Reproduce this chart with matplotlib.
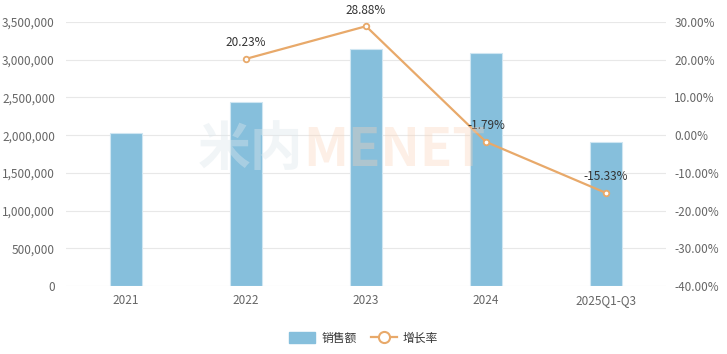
import matplotlib
matplotlib.use("Agg")
import matplotlib.pyplot as plt
from matplotlib.ticker import FuncFormatter
from matplotlib.lines import Line2D
from matplotlib.patches import Patch

plt.rcParams['font.family'] = ['Noto Sans CJK SC', 'DejaVu Sans']

categories = ["2021", "2022", "2023", "2024", "2025Q1-Q3"]
sales = [2030000, 2440000, 3145000, 3089000, 1915000]
growth = [None, 20.23, 28.88, -1.79, -15.33]
growth_labels = ["", "20.23%", "28.88%", "-1.79%", "-15.33%"]

bar_color = "#86BFDC"
line_color = "#E8A96A"
tick_color = "#666666"
grid_color = "#E8E8E8"

fig = plt.figure(figsize=(7.27, 3.54), dpi=100)
ax = fig.add_axes([66/727, 1-286/354, 600/727, 264/354])
x = list(range(len(categories)))
ax.bar(x, sales, width=0.27, color=bar_color, edgecolor="#CFE6F2", linewidth=0.8, zorder=2)
ax.set_xlim(-0.5, len(categories)-0.5)
ax.set_ylim(0, 3500000)
ax.set_yticks(range(0, 3500001, 500000))
ax.yaxis.set_major_formatter(FuncFormatter(lambda v, p: f"{int(v):,}"))
ax.set_xticks(x)
ax.set_xticklabels(categories)
ax.grid(axis='y', color=grid_color, linewidth=0.8, zorder=0)
ax.set_axisbelow(True)
for s in ax.spines.values():
    s.set_visible(False)
ax.tick_params(axis='both', length=0, colors=tick_color, labelsize=8.5)
ax.tick_params(axis='y', pad=8)
ax.tick_params(axis='x', pad=6)

# watermark
fig.text(303/727, 1-150/354, "米内", fontsize=38, color="#DCE7EC", alpha=0.4, ha='right', va='center', fontweight='bold', zorder=0)
fig.text(303/727, 1-150/354, "MENET", fontsize=38, color="#FAD3B8", alpha=0.35, ha='left', va='center', fontweight='bold', zorder=0)

ax2 = ax.twinx()
ax2.set_ylim(-40, 30)
ax2.set_yticks(range(-40, 31, 10))
ax2.yaxis.set_major_formatter(FuncFormatter(lambda v, p: f"{v:.2f}%"))
for s in ax2.spines.values():
    s.set_visible(False)
ax2.tick_params(axis='both', length=0, colors=tick_color, labelsize=8.5)
ax2.tick_params(axis='y', pad=6)

gx = [xi for xi, g in zip(x, growth) if g is not None]
gy = [g for g in growth if g is not None]
ax2.plot(gx, gy, color=line_color, linewidth=1.6, marker='o', markersize=4,
         markerfacecolor='white', markeredgecolor=line_color, markeredgewidth=1.3, zorder=5)
for xi, g, lab in zip(x, growth, growth_labels):
    if g is None:
        continue
    ax2.annotate(lab, (xi, g), xytext=(0, 7), textcoords='offset points',
                 ha='center', va='bottom', fontsize=8.5, color="#333333", zorder=6)

handles = [Patch(facecolor=bar_color, edgecolor=bar_color),
           Line2D([0], [0], color=line_color, linewidth=1.6, marker='o', markersize=8,
                  markerfacecolor='white', markeredgecolor=line_color, markeredgewidth=1.5)]
fig.legend(handles, ["销售额", "增长率"], loc='center', bbox_to_anchor=(0.5, 1-338/354),
           ncol=2, frameon=False, fontsize=8.5, labelcolor="#333333",
           handlelength=2.2, handleheight=1.0, columnspacing=1.2, handletextpad=0.5)

fig.savefig("out.png", dpi=100)
